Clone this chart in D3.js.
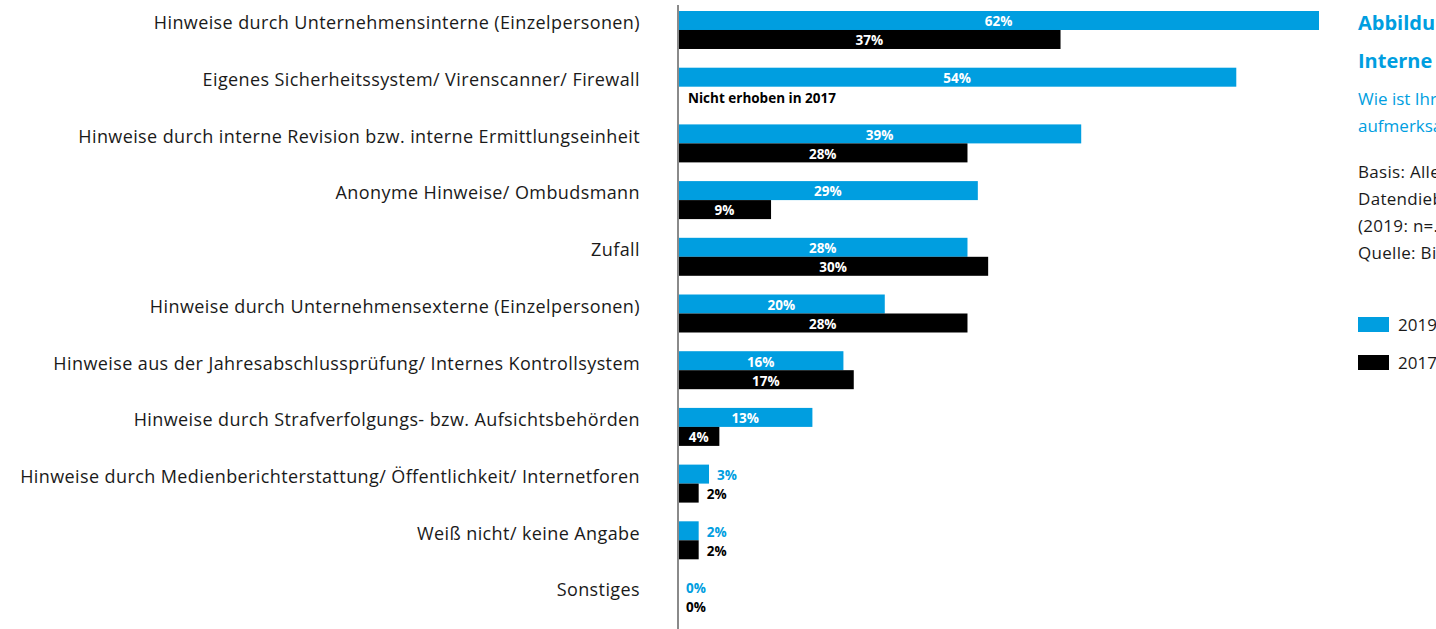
<!DOCTYPE html>
<html lang="de">
<head>
<meta charset="utf-8">
<script src="https://cdn.jsdelivr.net/npm/d3@7"></script>
<style>
  html, body { margin: 0; padding: 0; background: #fff; overflow: hidden; }
  svg { display: block; font-family: "Open Sans", "Noto Sans", sans-serif; }
</style>
</head>
<body>
<svg id="chart" width="1436" height="629"></svg>
<script>
// Wie Unternehmen auf Delikte aufmerksam geworden sind (Anteile in %)
const categories = [
  "Hinweise durch Unternehmensinterne (Einzelpersonen)",
  "Eigenes Sicherheitssystem/ Virenscanner/ Firewall",
  "Hinweise durch interne Revision bzw. interne Ermittlungseinheit",
  "Anonyme Hinweise/ Ombudsmann",
  "Zufall",
  "Hinweise durch Unternehmensexterne (Einzelpersonen)",
  "Hinweise aus der Jahresabschlussprüfung/ Internes Kontrollsystem",
  "Hinweise durch Strafverfolgungs- bzw. Aufsichtsbehörden",
  "Hinweise durch Medienberichterstattung/ Öffentlichkeit/ Internetforen",
  "Weiß nicht/ keine Angabe",
  "Sonstiges"
];
const values2019 = [62, 54, 39, 29, 28, 20, 16, 13, 3, 2, 0];
const values2017 = [37, null, 28, 9, 30, 28, 17, 4, 2, 2, 0];
const seriesNames = ["2019", "2017"];
const seriesColors = ["#009ee0", "#000000"];
const notCollected = "Nicht erhoben in 2017";

const titleLines = ["Abbildung", "Interne Hinweise"];
const questionLines = ["Wie ist Ihr Unternehmen", "aufmerksam geworden?"];
const noteLines = [
  "Basis: Alle betroffenen Unternehmen",
  "Datendiebstahl, Sabotage, Spionage",
  "(2019: n=…; 2017: n=…)",
  "Quelle: Bitkom Research"
];

const svg = d3.select("#chart");
const blue = seriesColors[0];

const x = d3.scaleLinear().domain([0, 62]).range([678, 1319]);
const y = d3.scaleBand().domain(categories).range([11, 616])
  .paddingInner(0.33).paddingOuter(0).align(0);
const ySub = d3.scaleBand().domain(seriesNames).range([0, y.bandwidth()]);
const color = d3.scaleOrdinal().domain(seriesNames).range(seriesColors);

const rows = categories.map((c, i) => ({
  cat: c,
  vals: [
    { key: "2019", v: values2019[i] },
    { key: "2017", v: values2017[i] }
  ]
}));

// Category labels, aligned just below the middle of the 2019 bar
svg.append("g").selectAll("text").data(categories).join("text")
  .attr("x", 640)
  .attr("y", d => y(d) + ySub("2019") + ySub.bandwidth() / 2 + 2.5)
  .attr("dy", "0.35em")
  .attr("text-anchor", "end")
  .attr("font-size", 18)
  .attr("letter-spacing", 0.4)
  .attr("fill", "#1a1a1a")
  .text(d => d);

const groups = svg.append("g").selectAll("g").data(rows).join("g")
  .attr("transform", d => `translate(0,${y(d.cat)})`);

groups.selectAll("rect").data(d => d.vals.filter(v => v.v !== null)).join("rect")
  .attr("x", x(0))
  .attr("y", d => ySub(d.key))
  .attr("width", d => x(d.v) - x(0))
  .attr("height", ySub.bandwidth())
  .attr("fill", d => color(d.key));

// Value labels: centred inside wide bars, after the bar end for short ones
const inside = v => v >= 4;
groups.selectAll("text.val").data(d => d.vals.filter(v => v.v !== null)).join("text")
  .attr("class", "val")
  .attr("x", d => inside(d.v) ? (x(0) + x(d.v)) / 2 : x(d.v) + 8)
  .attr("y", d => ySub(d.key) + ySub.bandwidth() / 2 + 1)
  .attr("dy", "0.36em")
  .attr("text-anchor", d => inside(d.v) ? "middle" : "start")
  .attr("font-size", 13.5)
  .attr("font-weight", 700)
  .attr("fill", d => inside(d.v) ? "#fff" : color(d.key))
  .text(d => d.v + "%");

// Note for the category without 2017 data
groups.filter(d => d.vals[1].v === null).append("text")
  .attr("x", x(0) + 10)
  .attr("y", ySub("2017") + ySub.bandwidth() / 2 + 2)
  .attr("dy", "0.36em")
  .attr("font-size", 13.5)
  .attr("font-weight", 700)
  .attr("fill", "#000")
  .text(notCollected);

// Baseline axis
svg.append("line")
  .attr("x1", x(0)).attr("x2", x(0))
  .attr("y1", 5).attr("y2", 629)
  .attr("stroke", "#8a8a8a").attr("stroke-width", 2);

// Side panel: title, question, notes, legend
const px = 1358;
const side = svg.append("g");
side.selectAll("text.title").data(titleLines).join("text")
  .attr("class", "title")
  .attr("x", px).attr("y", (d, i) => 30 + i * 38)
  .attr("font-size", 20).attr("font-weight", 700).attr("fill", blue)
  .text(d => d);
side.selectAll("text.q").data(questionLines).join("text")
  .attr("class", "q")
  .attr("x", px).attr("y", (d, i) => 105 + i * 27)
  .attr("font-size", 17).attr("fill", blue)
  .text(d => d);
side.selectAll("text.note").data(noteLines).join("text")
  .attr("class", "note")
  .attr("x", px).attr("y", (d, i) => 178 + i * 27)
  .attr("font-size", 17).attr("letter-spacing", 0.3).attr("fill", "#1a1a1a")
  .text(d => d);

const legend = side.selectAll("g.leg").data(seriesNames).join("g")
  .attr("class", "leg")
  .attr("transform", (d, i) => `translate(${px},${317 + i * 38})`);
legend.append("rect")
  .attr("width", 31).attr("height", 15)
  .attr("fill", d => color(d));
legend.append("text")
  .attr("x", 40).attr("y", 7.5).attr("dy", "0.36em")
  .attr("font-size", 17).attr("fill", "#1a1a1a")
  .text(d => d);
</script>
</body>
</html>
